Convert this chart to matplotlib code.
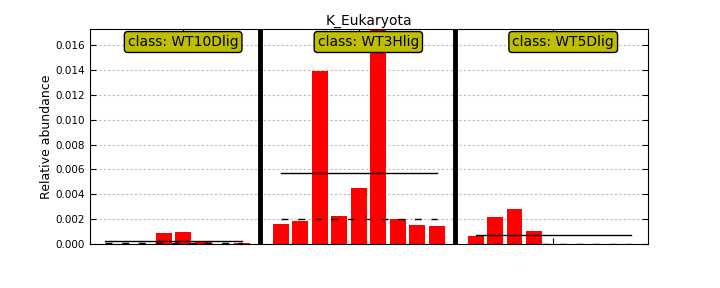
import numpy as np
import matplotlib
matplotlib.use('Agg')
import matplotlib.pyplot as plt

title = "K_Eukaryota"
classes = ["WT10Dlig", "WT3Hlig", "WT5Dlig"]

# relative abundance per sample
wt10 = [0.00002, 0.0, 0.0, 0.00088, 0.00097, 0.00022, 0.0, 0.00011]
wt3 = [0.00161, 0.00185, 0.0139, 0.00225, 0.0045, 0.022, 0.00201, 0.00153, 0.00145]
wt5 = [0.00064, 0.00217, 0.00281, 0.00105, 0.00003, 0.00002, 0.00002, 0.00002, 0.00002]

groups = [wt10, wt3, wt5]

fig = plt.figure(figsize=(7.2, 2.88), dpi=100)
ax = fig.add_axes([0.125, 0.153, 0.775, 0.746])

pos = 0
ticks = []
for i, vals in enumerate(groups):
    xs = np.arange(pos, pos + len(vals))
    ax.bar(xs, vals, width=0.82, color='red', edgecolor='none', zorder=2)
    ax.plot([xs[0], xs[-1]], [np.mean(vals)] * 2, color='black', lw=1.0, zorder=3)
    ax.plot([xs[0], xs[-1]], [np.median(vals)] * 2, color='black', lw=1.0,
            ls='--', dashes=(5, 7), zorder=3)
    ticks.append(pos + len(vals) // 2)
    ax.text(pos + len(vals) / 2.0, 0.01625, "class: " + classes[i], ha='center',
            va='center', fontsize=10, zorder=5,
            bbox=dict(boxstyle='round,pad=0.25', facecolor=(0.75, 0.75, 0),
                      edgecolor='black'))
    pos += len(vals)
    if i < len(groups) - 1:
        ax.axvline(pos - 0.05, color='black', lw=3.5, zorder=4)
        pos += 1

ax.set_xlim(-0.78, 27.85)
ax.set_ylim(0, 0.01729)
ax.set_yticks(np.arange(0, 0.0161, 0.002))
ax.set_yticklabels(["%.3f" % v for v in np.arange(0, 0.0161, 0.002)])
ax.set_xticks(ticks)
ax.set_xticklabels([])
ax.tick_params(direction='in', labelsize=7.5, top=True, right=True, length=4)
ax.yaxis.grid(True, ls='--', dashes=(2, 2), color='#bbbbbb', lw=0.8, zorder=0)
ax.set_axisbelow(True)
ax.set_ylabel("Relative abundance", fontsize=9, labelpad=2)
ax.set_title(title, fontsize=10, pad=3)

fig.savefig("out.png", dpi=100, facecolor='white')
